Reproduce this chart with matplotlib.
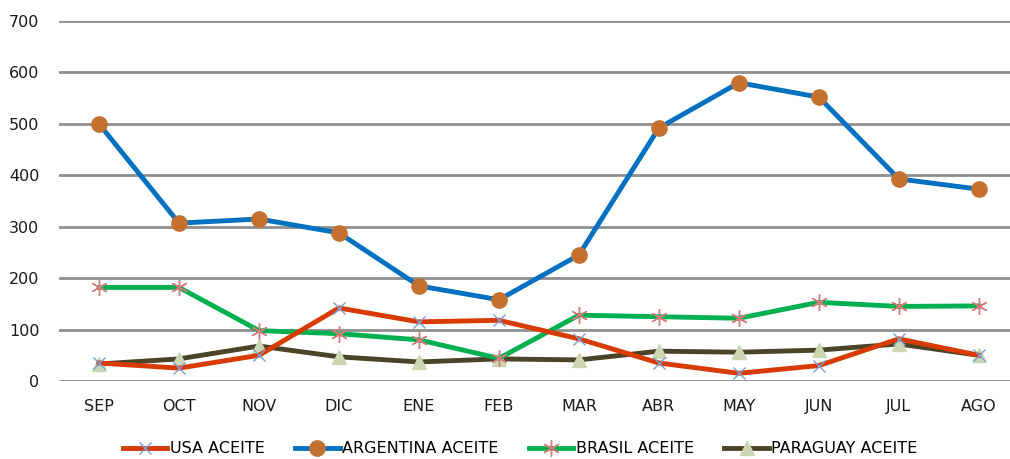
import matplotlib.pyplot as plt

# meses (campaña SEP-AGO)
months = ['SEP', 'OCT', 'NOV', 'DIC', 'ENE', 'FEB', 'MAR', 'ABR', 'MAY', 'JUN', 'JUL', 'AGO']

usa = [35, 25, 50, 142, 115, 118, 82, 35, 15, 30, 82, 50]
argentina = [500, 307, 315, 288, 185, 158, 245, 492, 580, 552, 393, 373]
brasil = [182, 182, 98, 92, 80, 44, 128, 125, 122, 153, 145, 146]
paraguay = [33, 43, 68, 47, 37, 43, 41, 58, 56, 60, 72, 50]

fig = plt.figure(figsize=(10.1, 4.59), dpi=100)
ax = fig.add_axes([59 / 1010, 1 - 381 / 459, 951 / 1010, (381 - 21) / 459])

x = range(len(months))

# orden de dibujo: Paraguay abajo, Argentina arriba
ax.plot(x, paraguay, color='#4b4429', lw=3.5, marker='^', ms=10,
        mfc='#cbd7b3', mec='#cbd7b3', label='PARAGUAY ACEITE', zorder=3)
ax.plot(x, brasil, color='#00b050', lw=3.5, marker=(6, 2, 0), ms=12,
        mfc='#d77a7a', mec='#d77a7a', mew=1.0, label='BRASIL ACEITE', zorder=4)
ax.plot(x, usa, color='#d83b01', lw=3.5, marker='x', ms=9,
        mfc='#7a9fd6', mec='#7a9fd6', mew=1.0, label='USA ACEITE', zorder=5)
ax.plot(x, argentina, color='#0070c0', lw=3.5, marker='o', ms=11,
        mfc='#c4712f', mec='#c4712f', label='ARGENTINA ACEITE', zorder=6)

ax.set_xlim(-0.5, 11.39)
ax.set_ylim(0, 700)
ax.set_yticks(range(0, 701, 100))
ax.set_xticks(list(x))
ax.set_xticklabels(months)
ax.grid(axis='y', color='#8f8f8f', lw=2.0)
ax.set_axisbelow(True)
for s in ax.spines.values():
    s.set_visible(False)
ax.tick_params(length=0, labelsize=11.5, colors='#1a1a1a')
ax.tick_params(axis='y', pad=14)
ax.tick_params(axis='x', pad=13)

handles, labels = ax.get_legend_handles_labels()
order = [2, 3, 1, 0]
fig.legend([handles[i] for i in order], [labels[i] for i in order],
           loc='lower center', bbox_to_anchor=(0.515, -0.025), ncol=4,
           frameon=False, fontsize=11.5, handlelength=2.8, columnspacing=1.9,
           handletextpad=0.15)

fig.savefig('out.png', dpi=100)
